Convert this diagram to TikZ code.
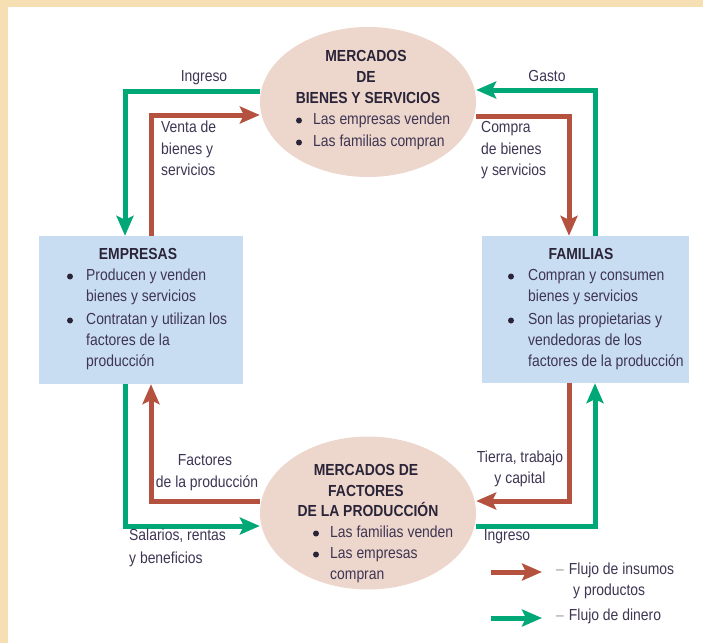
\documentclass[tikz,border=0pt]{standalone}
\usepackage{fontspec}
\setmainfont{Liberation Sans}[FakeStretch=0.87]
\usetikzlibrary{arrows.meta,shapes.geometric}
\definecolor{rojo}{HTML}{B4523F}
\definecolor{verde}{HTML}{00A878}
\definecolor{cajaazul}{HTML}{C9DDF2}
\definecolor{elipse}{HTML}{EDD6CC}
\definecolor{marco}{HTML}{F5DFB3}
\definecolor{txtc}{HTML}{3E3552}
\definecolor{ttlc}{HTML}{2A2438}
\definecolor{guion}{HTML}{9A9A9A}
\begin{document}
\begin{tikzpicture}[x=1pt,y=-1pt,
  txt/.style={inner sep=0pt, text=txtc, font=\fontsize{16}{19}\selectfont},
  ttl/.style={inner sep=0pt, text=ttlc, font=\fontsize{16}{19}\selectfont\bfseries},
  punto/.style={circle, fill=ttlc, inner sep=0pt, minimum size=6pt, yshift=1.5pt},
  flow/.style={line width=5pt, -{Stealth[length=20pt,width=17pt,inset=4pt]}},
  rflow/.style={flow, draw=rojo},
  gflow/.style={flow, draw=verde},
  mercado/.style={ellipse, fill=elipse, inner sep=0pt, minimum width=216pt, minimum height=150pt},
  agente/.style={rectangle, fill=cajaazul, inner sep=0pt}]
\path[use as bounding box] (0,0) rectangle (703,643);
\fill[marco] (0,0) rectangle (703,7);
\fill[marco] (0,0) rectangle (8,643);

% main shapes
\node[mercado] (mb) at (368,102) {};
\node[mercado, minimum height=153pt] (mf) at (368,513) {};
\node[agente, minimum width=204pt, minimum height=148pt] (emp) at (141,310) {};
\node[agente, minimum width=207pt, minimum height=147pt] (fam) at (585.5,309.5) {};

% top market text
\node[ttl, anchor=mid] (mb1) at (366,59) {MERCADOS};
\node[ttl, anchor=mid] (mb2) at (366,80) {DE};
\node[ttl, anchor=mid] (mb3) at (368,101) {BIENES Y SERVICIOS};
\node[punto] (mbb1) at (299,122) {};
\node[txt, anchor=mid west] (mbt1) at (313,122) {Las empresas venden};
\node[punto] (mbb2) at (299,144) {};
\node[txt, anchor=mid west] (mbt2) at (313,144) {Las familias compran};

% bottom market text
\node[ttl, anchor=mid] (mf1) at (366,473) {MERCADOS DE};
\node[ttl, anchor=mid] (mf2) at (366,494) {FACTORES};
\node[ttl, anchor=mid] (mf3) at (368,514) {DE LA PRODUCCIÓN};
\node[punto] (mfb1) at (316,535) {};
\node[txt, anchor=mid west] (mft1) at (330,535) {Las familias venden};
\node[punto] (mfb2) at (316,556) {};
\node[txt, anchor=mid west] (mft2) at (330,556) {Las empresas};
\node[txt, anchor=mid west] (mft3) at (330,577) {compran};

% EMPRESAS text
\node[ttl, anchor=mid] (e0) at (138,257) {EMPRESAS};
\node[punto] (eb1) at (70,278) {};
\node[txt, anchor=mid west] (e1) at (86,278) {Producen y venden};
\node[txt, anchor=mid west] (e2) at (86,299) {bienes y servicios};
\node[punto] (eb2) at (70,322) {};
\node[txt, anchor=mid west] (e3) at (86,322) {Contratan y utilizan los};
\node[txt, anchor=mid west] (e4) at (86,343) {factores de la};
\node[txt, anchor=mid west] (e5) at (86,364) {producción};

% FAMILIAS text
\node[ttl, anchor=mid] (f0) at (581,257) {FAMILIAS};
\node[punto] (fb1) at (511,278) {};
\node[txt, anchor=mid west] (f1) at (528,278) {Compran y consumen};
\node[txt, anchor=mid west] (f2) at (528,299) {bienes y servicios};
\node[punto] (fb2) at (511,322) {};
\node[txt, anchor=mid west] (f3) at (528,322) {Son las propietarias y};
\node[txt, anchor=mid west] (f4) at (528,343) {vendedoras de los};
\node[txt, anchor=mid west] (f5) at (528,364) {factores de la producción};

% flows
\draw[gflow] ([yshift=11pt]mb.west) -| ([xshift=-16pt]emp.north);
\draw[rflow] ([xshift=10pt]emp.north) |- ([yshift=-13pt]mb.west);
\draw[gflow] ([xshift=9.5pt]fam.north) |- ([yshift=12pt]mb.east);
\draw[rflow] ([yshift=-14pt]mb.east) -| ([xshift=-16.5pt]fam.north);
\draw[rflow] ([yshift=12pt]mf.west) -| ([xshift=10pt]emp.south);
\draw[gflow] ([xshift=-16pt]emp.south) |- ([yshift=-13pt]mf.west);
\draw[rflow] ([xshift=-16.5pt]fam.south) |- ([yshift=12pt]mf.east);
\draw[gflow] ([yshift=-13pt]mf.east) -| ([xshift=9.5pt]fam.south);

% flow labels
\node[txt, anchor=mid] (l1) at (204,79) {Ingreso};
\node[txt, anchor=mid west] (l2a) at (161,130) {Venta de};
\node[txt, anchor=mid west] (l2b) at (161,152) {bienes y};
\node[txt, anchor=mid west] (l2c) at (161,173) {servicios};
\node[txt, anchor=mid] (l3) at (547,79) {Gasto};
\node[txt, anchor=mid west] (l4a) at (481,130) {Compra};
\node[txt, anchor=mid west] (l4b) at (481,152) {de bienes};
\node[txt, anchor=mid west] (l4c) at (481,173) {y servicios};
\node[txt, anchor=mid] (l5a) at (205,463) {Factores};
\node[txt, anchor=mid] (l5b) at (207,485) {de la producción};
\node[txt, anchor=mid west] (l6a) at (129,538) {Salarios, rentas};
\node[txt, anchor=mid west] (l6b) at (129,561) {y beneficios};
\node[txt, anchor=mid] (l7a) at (520,460) {Tierra, trabajo};
\node[txt, anchor=mid] (l7b) at (520,481) {y capital};
\node[txt, anchor=mid] (l8) at (507,538) {Ingreso};

% legend
\coordinate (lra) at (491,572);
\coordinate (lrb) at (542,572);
\coordinate (lga) at (491,618);
\coordinate (lgb) at (542,618);
\draw[rflow] (lra) -- (lrb);
\draw[gflow] (lga) -- (lgb);
\node[txt, anchor=mid west] (lt1) at (556,572) {\textcolor{guion}{–}\hspace{5pt}Flujo de insumos};
\node[txt, anchor=mid west] (lt2) at (573,593) {y productos};
\node[txt, anchor=mid west] (lt3) at (556,618) {\textcolor{guion}{–}\hspace{5pt}Flujo de dinero};
\end{tikzpicture}
\end{document}
